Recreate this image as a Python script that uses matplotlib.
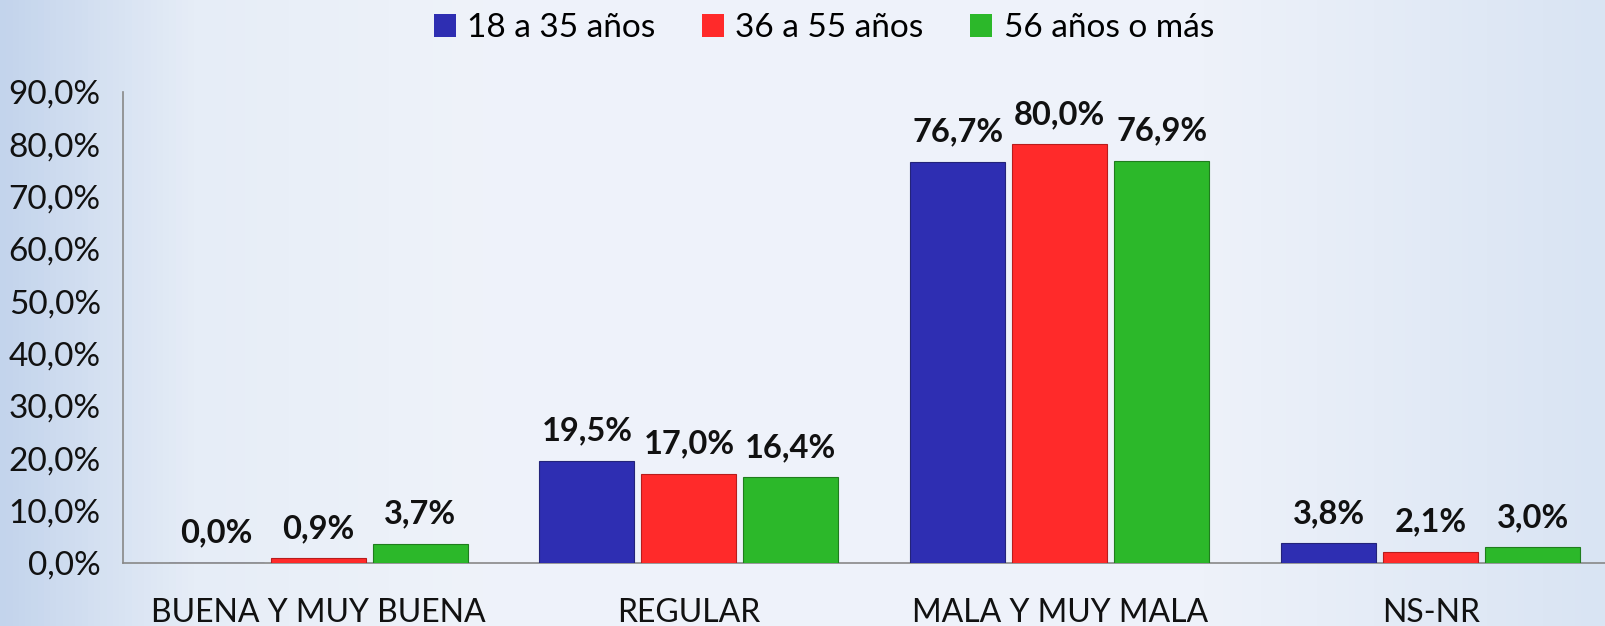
import numpy as np
import matplotlib.pyplot as plt
from matplotlib.colors import LinearSegmentedColormap
from matplotlib.patches import Patch

# Data
categories = ["BUENA Y MUY BUENA", "REGULAR", "MALA Y MUY MALA", "NS-NR"]
series_names = ["18 a 35 años", "36 a 55 años", "56 años o más"]
joven = [0.0, 19.5, 76.7, 3.8]
medio = [0.9, 17.0, 80.0, 2.1]
mayor = [3.7, 16.4, 76.9, 3.0]
colors = ["#2E2EB2", "#FF2A2A", "#2CB82A"]
edges = ["#23237a", "#b81c1c", "#1f7d1d"]

plt.rcParams["font.family"] = ["Lato", "DejaVu Sans"]

fig = plt.figure(figsize=(16.06, 6.26), dpi=100)

# background gradient
bg = fig.add_axes([0, 0, 1, 1], zorder=-10)
grad_cmap = LinearSegmentedColormap.from_list(
    "bg", [(0.0, "#c3d4ec"), (0.12, "#e6edf7"), (0.3, "#eff3fa"),
           (0.75, "#eef2fa"), (1.0, "#d9e4f3")])
grad = np.linspace(0, 1, 512).reshape(1, -1)
bg.imshow(grad, aspect="auto", cmap=grad_cmap, extent=[0, 1, 0, 1])
bg.set_axis_off()

ax = fig.add_axes([0.0766, 0.1006, 0.9297, 0.7524])
ax.patch.set_alpha(0)

x = np.arange(len(categories))
width = 0.256
step = 0.275
for i, (vals, name) in enumerate(zip([joven, medio, mayor], series_names)):
    pos = x + (i - 1) * step
    ax.bar(pos, vals, width, color=colors[i], edgecolor=edges[i],
           linewidth=0.8, label=name, zorder=3)
    for p, v in zip(pos, vals):
        ax.annotate(f"{v:.1f}%".replace(".", ","), (p, v), xytext=(0, 11),
                    textcoords="offset points", ha="center", va="bottom",
                    fontsize=23.5, fontweight="bold", color="#111111")

ax.set_xlim(-0.526, 3.5)
ax.set_ylim(0, 90)
ax.set_yticks(np.arange(0, 91, 10))
ax.set_yticklabels([f"{t:.1f}%".replace(".", ",") for t in np.arange(0, 91, 10)],
                   fontsize=24, color="#111111")
ax.set_xticks(x)
ax.set_xticklabels(categories, fontsize=23, color="#111111")
ax.tick_params(axis="both", length=0)
ax.tick_params(axis="x", pad=25)
ax.tick_params(axis="y", pad=16)

for s in ["top", "right"]:
    ax.spines[s].set_visible(False)
for s in ["left", "bottom"]:
    ax.spines[s].set_color("#888888")
    ax.spines[s].set_linewidth(1.2)

handles = [Patch(facecolor=c, edgecolor="none") for c in colors]
fig.legend(handles, series_names, loc="center", bbox_to_anchor=(0.513, 0.955),
           ncol=3, frameon=False, fontsize=24, handlelength=0.65, handleheight=0.7,
           handletextpad=0.35, columnspacing=1.4)

fig.savefig("out.png", dpi=100)
